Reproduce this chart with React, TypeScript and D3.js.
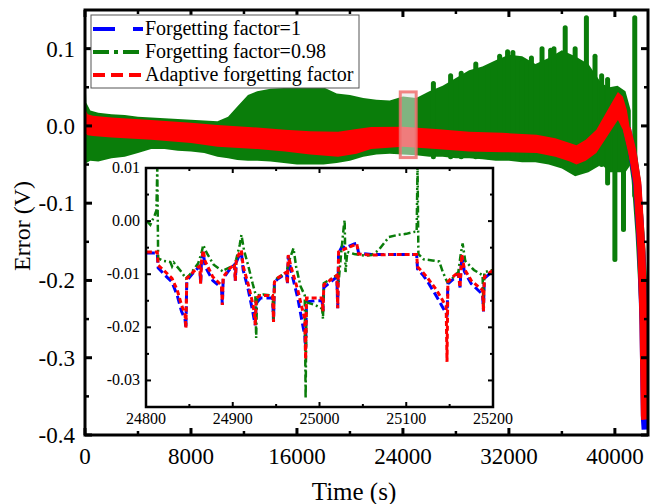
import React from 'react';
import * as d3 from 'd3';

const W = 659, H = 504;
const FONT = '"Liberation Serif", "Times New Roman", Times, serif';

// main axes
const mainXTicks = [0, 8000, 16000, 24000, 32000, 40000];
const mainXMinor = [4000, 12000, 20000, 28000, 36000];
const mainYTicks = [0.1, 0, -0.1, -0.2, -0.3, -0.4];
const mainYLabels = ["0.1", "0.0", "-0.1", "-0.2", "-0.3", "-0.4"];
const mainYMinor = [0.05, -0.05, -0.15, -0.25, -0.35];

// red band (adaptive) envelope
const redT = [0, 60, 200, 600, 2000, 5000, 8000, 10000, 13000, 15100, 17000, 19100, 20500, 21600, 24000, 26500, 29000, 31500, 34100, 35500, 36600, 37100, 37800, 38600, 39600, 40230, 40600, 40900, 41200];
const redHi = [0.062, 0.02, 0.015, 0.013, 0.011, 0.0077, 0.004, 0.0013, -0.002, -0.005, -0.007, -0.0075, -0.004, -0.0015, -0.001, -0.004, -0.0074, -0.009, -0.0116, -0.016, -0.022, -0.025, -0.018, -0.005, 0.025, 0.044, 0.038, 0.021, -0.01];
const redLo = [-0.005, -0.01, -0.012, -0.013, -0.015, -0.018, -0.022, -0.027, -0.03, -0.033, -0.037, -0.04, -0.036, -0.03, -0.027, -0.03, -0.033, -0.034, -0.035, -0.04, -0.046, -0.05, -0.045, -0.035, -0.009, 0.0077, -0.005, -0.027, -0.05];
// descent tails
const redTailT = [40900, 41300, 41700, 42000, 42150, 42260, 42290];
const redTailV = [-0.003, -0.031, -0.074, -0.16, -0.246, -0.375, -0.38];
const blueTailT = [40900, 41300, 41700, 42000, 42150, 42270, 42320];
const blueTailV = [-0.003, -0.033, -0.078, -0.165, -0.25, -0.38, -0.393];
const greenTailT = [41200, 41600, 41900, 42150, 42330, 42430];
const greenTailV = [-0.02, -0.07, -0.14, -0.22, -0.3, -0.37];

// green (0.98) envelope
const greenT = [0, 100, 400, 1000, 2000, 3000, 4000, 5000, 6000, 7000, 8000, 9000, 10000, 10800, 11500, 12300, 13000, 14000, 16000, 18000, 19000, 20000, 21000, 22000, 23000, 24000, 25000, 26000, 27000, 28000, 29000, 30000, 31000, 32000, 33000, 34000, 35000, 36000, 37000, 38000, 39000, 39600, 40200, 40800, 41200];
const greenHi = [0.083, 0.03, 0.02, 0.017, 0.015, 0.014, 0.012, 0.011, 0.01, 0.009, 0.008, 0.007, 0.006, 0.012, 0.025, 0.04, 0.045, 0.048, 0.05, 0.05, 0.042, 0.04, 0.036, 0.034, 0.033, 0.038, 0.036, 0.045, 0.052, 0.062, 0.072, 0.077, 0.085, 0.092, 0.09, 0.08, 0.088, 0.098, 0.09, 0.08, 0.055, 0.05, 0.052, 0.045, 0.02];
const greenLo = [-0.05, -0.048, -0.045, -0.046, -0.042, -0.04, -0.035, -0.03, -0.03, -0.032, -0.033, -0.035, -0.04, -0.042, -0.044, -0.045, -0.045, -0.046, -0.05, -0.05, -0.048, -0.045, -0.04, -0.037, -0.036, -0.037, -0.038, -0.04, -0.04, -0.042, -0.042, -0.043, -0.045, -0.045, -0.047, -0.047, -0.05, -0.055, -0.065, -0.06, -0.05, -0.06, -0.06, -0.06, -0.05];
// green spike columns: time, low, high
const greenColT = [26300, 27600, 28400, 29500, 30400, 31300, 31900, 32300, 33000, 33700, 34500, 35150, 35400, 36250, 37000, 37850, 38500, 39000, 39450, 40000, 40650, 41500];
const greenColLo = [-0.04, -0.04, -0.04, -0.04, -0.04, -0.04, -0.04, -0.04, -0.04, -0.04, -0.04, -0.045, -0.045, -0.05, -0.06, -0.055, -0.05, -0.05, -0.074, -0.173, -0.134, -0.09];
const greenColHi = [0.055, 0.065, 0.068, 0.08, 0.074, 0.09, 0.096, 0.095, 0.082, 0.088, 0.1, 0.098, 0.1, 0.127, 0.1, 0.14, 0.09, 0.065, 0.06, 0.03, 0.03, 0.14];

// zoom highlight
const hlT = [23800, 25000];
const hlV = [-0.041, 0.044];

// inset
const insetXTicks = [24800, 24900, 25000, 25100, 25200];
const insetXMinor = [24850, 24950, 25050, 25150];
const insetYTicks = [0.01, 0, -0.01, -0.02, -0.03];
const insetYLabels = ["0.01", "0.00", "-0.01", "-0.02", "-0.03"];
const insetYMinor = [0.005, -0.005, -0.015, -0.025];

const redInset: [number, number][] = [[24801,-0.0058],[24813,-0.0058],[24814,-0.0083],[24822,-0.0095],[24830,-0.0108],[24836,-0.013],[24841,-0.0158],[24845,-0.0175],[24846,-0.0202],[24847,-0.0108],[24853,-0.0098],[24860,-0.0087],[24862,-0.0085],[24863,-0.0118],[24864,-0.0075],[24866,-0.0055],[24868,-0.0075],[24877,-0.0105],[24887,-0.0121],[24888,-0.0158],[24889,-0.0105],[24896,-0.009],[24902,-0.0081],[24903,-0.0112],[24904,-0.0075],[24908,-0.0058],[24910,-0.0055],[24912,-0.0085],[24918,-0.012],[24923,-0.0155],[24925,-0.0175],[24926,-0.0196],[24927,-0.0145],[24932,-0.014],[24946,-0.014],[24947,-0.019],[24948,-0.0115],[24951,-0.0108],[24962,-0.0096],[24963,-0.0118],[24964,-0.0064],[24967,-0.0085],[24975,-0.013],[24980,-0.0165],[24983,-0.0183],[24984,-0.026],[24985,-0.0145],[24995,-0.0145],[25003,-0.0145],[25004,-0.017],[25005,-0.012],[25020,-0.0102],[25021,-0.0164],[25022,-0.0058],[25026,-0.0055],[25030,-0.0052],[25040,-0.0045],[25043,-0.0043],[25045,-0.0062],[25060,-0.0064],[25080,-0.0063],[25112,-0.0063],[25113,-0.0086],[25120,-0.0098],[25125,-0.0108],[25135,-0.013],[25144,-0.0155],[25146,-0.016],[25147,-0.0265],[25148,-0.0114],[25155,-0.0103],[25160,-0.0096],[25162,-0.0125],[25164,-0.0063],[25167,-0.009],[25175,-0.0112],[25188,-0.013],[25189,-0.017],[25190,-0.0105],[25197,-0.0096],[25200,-0.0093]];

const blueInset: [number, number][] = [[24801,-0.006],[24813,-0.006],[24814,-0.0088],[24822,-0.0102],[24830,-0.0115],[24836,-0.014],[24841,-0.017],[24845,-0.0185],[24846,-0.0202],[24847,-0.0112],[24853,-0.01],[24860,-0.0088],[24862,-0.0085],[24863,-0.0118],[24864,-0.0072],[24866,-0.0058],[24868,-0.0085],[24877,-0.0112],[24887,-0.0125],[24888,-0.0158],[24889,-0.0108],[24896,-0.0092],[24902,-0.0082],[24903,-0.0112],[24904,-0.0078],[24908,-0.0062],[24910,-0.006],[24912,-0.0092],[24918,-0.013],[24923,-0.017],[24925,-0.0188],[24926,-0.0196],[24927,-0.0155],[24932,-0.0145],[24946,-0.0145],[24947,-0.019],[24948,-0.0118],[24951,-0.011],[24962,-0.0098],[24963,-0.0118],[24964,-0.0066],[24967,-0.0092],[24975,-0.0145],[24980,-0.019],[24983,-0.0215],[24984,-0.024],[24985,-0.0152],[24995,-0.015],[25003,-0.015],[25004,-0.017],[25005,-0.0125],[25020,-0.0105],[25021,-0.0164],[25022,-0.006],[25026,-0.0048],[25030,-0.005],[25040,-0.0043],[25043,-0.0042],[25045,-0.006],[25060,-0.0063],[25080,-0.0063],[25112,-0.0063],[25113,-0.009],[25120,-0.0103],[25125,-0.0115],[25135,-0.0142],[25144,-0.0168],[25146,-0.0172],[25147,-0.018],[25148,-0.0118],[25155,-0.0108],[25160,-0.0098],[25162,-0.0125],[25164,-0.0066],[25167,-0.0095],[25175,-0.0118],[25188,-0.0138],[25189,-0.017],[25190,-0.0108],[25197,-0.0098],[25200,-0.0095]];

const greenInset: [number, number][] = [[24801,0.0],[24805,-0.0007],[24810,0.0011],[24812,0.002],[24813,0.01],[24814,-0.007],[24820,-0.0075],[24828,-0.0077],[24830,-0.0085],[24832,-0.0078],[24841,-0.0096],[24846,-0.0108],[24850,-0.0102],[24860,-0.008],[24864,-0.006],[24866,-0.0045],[24870,-0.006],[24878,-0.0082],[24887,-0.0093],[24889,-0.0095],[24890,-0.0092],[24902,-0.0083],[24904,-0.0072],[24908,-0.0045],[24910,-0.0026],[24913,-0.0055],[24918,-0.0085],[24923,-0.0118],[24926,-0.0136],[24927,-0.022],[24928,-0.014],[24935,-0.0138],[24946,-0.014],[24947,-0.0185],[24948,-0.0115],[24951,-0.0108],[24962,-0.0096],[24966,-0.007],[24970,-0.0051],[24973,-0.0085],[24978,-0.0122],[24983,-0.014],[24984,-0.0334],[24985,-0.0153],[24995,-0.0158],[25003,-0.0165],[25004,-0.0184],[25005,-0.0117],[25020,-0.0102],[25022,-0.0115],[25025,-0.006],[25028,-0.001],[25029,0.0002],[25030,-0.0096],[25032,-0.0058],[25040,-0.0062],[25052,-0.0065],[25060,-0.0064],[25068,-0.0055],[25080,-0.003],[25090,-0.0026],[25100,-0.0024],[25110,-0.002],[25112,-0.002],[25113,0.0105],[25114,-0.0062],[25120,-0.0072],[25130,-0.0074],[25138,-0.0076],[25142,-0.0095],[25147,-0.0114],[25148,-0.0115],[25153,-0.0108],[25160,-0.0096],[25163,-0.006],[25165,-0.0042],[25168,-0.0075],[25178,-0.0092],[25188,-0.0102],[25189,-0.0165],[25190,-0.0096],[25200,-0.0092]];

const legendLabels = ["Forgetting factor=1", "Forgetting factor=0.98", "Adaptive forgetting factor"];
const BLUE = "#0000ff", GREEN = "#0a7d0a", RED = "#ff0000";

export default function App() {
  const L = 85, R = 648, T = 10, B = 435;
  const x = d3.scaleLinear().domain([0, 42500]).range([L, R]);
  const y = d3.scaleLinear().domain([-0.4, 0.15]).range([B, T]);
  const IL = 146, IR = 493, IT = 168, IB = 407;
  const xi = d3.scaleLinear().domain([24800, 25200]).range([IL, IR]);
  const yi = d3.scaleLinear().domain([-0.035, 0.01]).range([IB, IT]);

  const band = (ts: number[], lo: number[], hi: number[]) =>
    d3.area<number>().x((_, i) => x(ts[i])).y0((_, i) => y(lo[i])).y1((_, i) => y(hi[i]))(ts.map((_, i) => i)) || "";
  const tail = (ts: number[], vs: number[]) =>
    d3.line<number>().x((_, i) => x(ts[i])).y((_, i) => y(vs[i]))(ts.map((_, i) => i)) || "";
  const iline = d3.line<[number, number]>().x(d => xi(d[0])).y(d => yi(d[1]));
  const ts = { fontFamily: FONT } as React.CSSProperties;

  return (
    <svg width={W} height={H} style={{ position: 'fixed', left: 0, top: 0, background: '#fff', fontFamily: FONT }}>
      <defs>
        <clipPath id="mainClip"><rect x={L} y={T} width={R - L} height={B - T} /></clipPath>
        <clipPath id="insetClip"><rect x={IL} y={IT} width={IR - IL} height={IB - IT} /></clipPath>
      </defs>
      <rect x={0} y={0} width={W} height={H} fill="#fff" />
      <g clipPath="url(#mainClip)">
        <path d={band(greenT, greenLo, greenHi)} fill={GREEN} />
        {greenColT.map((t, i) => (
          <line key={i} x1={x(t)} x2={x(t)} y1={y(greenColLo[i])} y2={y(greenColHi[i])} stroke={GREEN} strokeWidth={5} strokeLinecap="round" />
        ))}
        <path d={tail(greenTailT, greenTailV)} fill="none" stroke={GREEN} strokeWidth={9} />
        <path d={tail(blueTailT, blueTailV)} fill="none" stroke={BLUE} strokeWidth={8} />
        <path d={band(redT, redLo, redHi)} fill={RED} />
        <path d={tail(redTailT, redTailV)} fill="none" stroke={RED} strokeWidth={8} strokeLinejoin="round" />
        <rect x={x(hlT[0])} y={y(hlV[1])} width={x(hlT[1]) - x(hlT[0])} height={y(hlV[0]) - y(hlV[1])}
          fill="rgba(225,225,225,0.55)" stroke="rgba(240,110,110,0.85)" strokeWidth={3} />
      </g>

      {mainXTicks.map(t => (
        <g key={'mx' + t}>
          <line x1={x(t)} x2={x(t)} y1={B} y2={B - 7} stroke="#000" strokeWidth={3} />
          <line x1={x(t)} x2={x(t)} y1={T} y2={T + 7} stroke="#000" strokeWidth={3} />
          <text x={x(t)} y={B + 29} fontSize={23} textAnchor="middle" style={ts}>{t}</text>
        </g>
      ))}
      {mainXMinor.map(t => (
        <g key={'mxm' + t}>
          <line x1={x(t)} x2={x(t)} y1={B} y2={B - 4} stroke="#000" strokeWidth={2.5} />
          <line x1={x(t)} x2={x(t)} y1={T} y2={T + 4} stroke="#000" strokeWidth={2.5} />
        </g>
      ))}
      {mainYTicks.map((v, i) => (
        <g key={'my' + i}>
          <line x1={L} x2={L + 7} y1={y(v)} y2={y(v)} stroke="#000" strokeWidth={3} />
          <line x1={R} x2={R - 7} y1={y(v)} y2={y(v)} stroke="#000" strokeWidth={3} />
          <text x={L - 10} y={y(v) + 8} fontSize={23} textAnchor="end" style={ts}>{mainYLabels[i]}</text>
        </g>
      ))}
      {mainYMinor.map((v, i) => (
        <g key={'mym' + i}>
          <line x1={L} x2={L + 4} y1={y(v)} y2={y(v)} stroke="#000" strokeWidth={2.5} />
          <line x1={R} x2={R - 4} y1={y(v)} y2={y(v)} stroke="#000" strokeWidth={2.5} />
        </g>
      ))}
      <rect x={L} y={T} width={R - L} height={B - T} fill="none" stroke="#000" strokeWidth={3} />
      <text x={354} y={500} fontSize={25} textAnchor="middle" style={ts}>Time (s)</text>
      <text transform={`translate(30,${226}) rotate(-90)`} fontSize={24} textAnchor="middle" style={ts}>Error (V)</text>

      <rect x={IL} y={IT} width={IR - IL} height={IB - IT} fill="#fff" />
      <g clipPath="url(#insetClip)">
        <path d={iline(blueInset) || ""} fill="none" stroke={BLUE} strokeWidth={3} strokeDasharray="8,4" />
        <path d={iline(greenInset) || ""} fill="none" stroke={GREEN} strokeWidth={2.5} strokeDasharray="7,3,2,3" />
        <path d={iline(redInset) || ""} fill="none" stroke={RED} strokeWidth={3} strokeDasharray="5,3" />
      </g>
      {insetXTicks.map(t => (
        <g key={'ix' + t}>
          <line x1={xi(t)} x2={xi(t)} y1={IB} y2={IB - 5} stroke="#000" strokeWidth={2} />
          <line x1={xi(t)} x2={xi(t)} y1={IT} y2={IT + 5} stroke="#000" strokeWidth={2} />
          <text x={xi(t)} y={IB + 17} fontSize={16} textAnchor="middle" style={ts}>{t}</text>
        </g>
      ))}
      {insetXMinor.map(t => (
        <g key={'ixm' + t}>
          <line x1={xi(t)} x2={xi(t)} y1={IB} y2={IB - 3} stroke="#000" strokeWidth={2} />
          <line x1={xi(t)} x2={xi(t)} y1={IT} y2={IT + 3} stroke="#000" strokeWidth={2} />
        </g>
      ))}
      {insetYTicks.map((v, i) => (
        <g key={'iy' + i}>
          <line x1={IL} x2={IL + 5} y1={yi(v)} y2={yi(v)} stroke="#000" strokeWidth={2} />
          <line x1={IR} x2={IR - 5} y1={yi(v)} y2={yi(v)} stroke="#000" strokeWidth={2} />
          <text x={IL - 6} y={yi(v) + 5} fontSize={16} textAnchor="end" style={ts}>{insetYLabels[i]}</text>
        </g>
      ))}
      {insetYMinor.map((v, i) => (
        <g key={'iym' + i}>
          <line x1={IL} x2={IL + 3} y1={yi(v)} y2={yi(v)} stroke="#000" strokeWidth={2} />
          <line x1={IR} x2={IR - 3} y1={yi(v)} y2={yi(v)} stroke="#000" strokeWidth={2} />
        </g>
      ))}
      <rect x={IL} y={IT} width={IR - IL} height={IB - IT} fill="none" stroke="#000" strokeWidth={2.5} />

      <rect x={91} y={15} width={268} height={73} fill="#fff" stroke="#555" strokeWidth={1} />
      {legendLabels.map((lab, i) => {
        const ly = 29 + i * 23;
        const cfg = [
          { c: BLUE, d: "22,18" },
          { c: GREEN, d: "16,5,4,5" },
          { c: RED, d: "12,6" },
        ][i];
        return (
          <g key={lab}>
            <line x1={93} x2={143} y1={ly} y2={ly} stroke={cfg.c} strokeWidth={4} strokeDasharray={cfg.d} />
            <text x={145} y={ly + 6} fontSize={20} style={ts}>{lab}</text>
          </g>
        );
      })}
    </svg>
  );
}
